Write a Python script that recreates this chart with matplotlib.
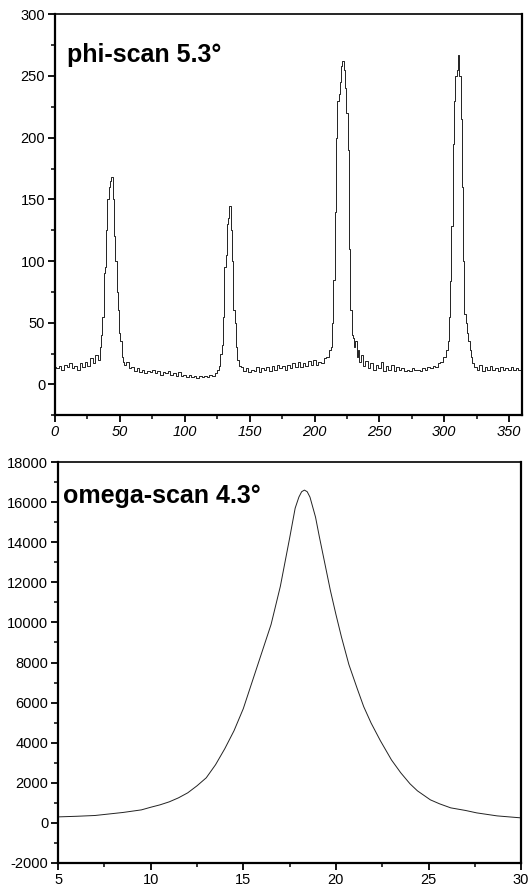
import matplotlib.pyplot as plt
from matplotlib.ticker import MultipleLocator

plt.rcParams['font.family'] = ['Liberation Sans', 'DejaVu Sans']
plt.rcParams['axes.unicode_minus'] = False

# phi-scan (degrees, counts)
phi_deg = [0, 2, 4, 6, 8, 10, 12, 14, 16, 18, 20, 22, 24, 26, 28, 30, 32, 34,
           35, 36, 37, 38, 39, 40, 41, 42, 43, 44, 45, 46, 47, 48, 49, 50, 51, 52, 53,
           54, 56, 58, 60, 62, 64, 66, 68, 70, 72, 74, 76, 78, 80, 82, 84, 86, 88,
           90, 92, 94, 96, 98, 100, 102, 104, 106, 108, 110, 112, 114, 116, 118,
           120, 122, 124, 126, 127, 128, 129, 130, 131, 132, 133, 134, 135, 136,
           137, 138, 139, 140, 141, 142, 144, 146, 148, 150, 152, 154, 156, 158,
           160, 162, 164, 166, 168, 170, 172, 174, 176, 178, 180, 182, 184, 186,
           188, 190, 192, 194, 196, 198, 200, 202, 204, 206, 208, 210, 212, 213,
           214, 215, 216, 217, 218, 219, 220, 221, 222, 223, 224, 225, 226, 227,
           228, 229, 230, 231, 232, 233, 234, 235, 236, 238, 240, 242, 244, 246,
           248, 250, 252, 254, 256, 258, 260, 262, 264, 266, 268, 270, 272, 274,
           276, 278, 280, 282, 284, 286, 288, 290, 292, 294, 296, 298, 300, 302,
           303, 304, 305, 306, 307, 308, 309, 310, 311, 312, 313, 314, 315, 316,
           317, 318, 319, 320, 321, 322, 324, 326, 328, 330, 332, 334, 336, 338,
           340, 342, 344, 346, 348, 350, 352, 354, 356, 358, 360]
phi_counts = [14, 13, 15, 12, 16, 14, 17, 13, 15, 12, 17, 14, 18, 15, 21, 17, 24, 20,
              30, 40, 55, 90, 95, 125, 150, 160, 165, 168, 150, 120, 100, 75, 60, 42, 35, 22, 18,
              16, 18, 13, 14, 11, 13, 10, 12, 9, 11, 10, 12, 9, 11, 8, 10, 9, 11,
              8, 9, 7, 10, 7, 8, 6, 8, 6, 7, 5, 7, 6, 7, 6,
              8, 7, 9, 12, 15, 25, 32, 55, 95, 105, 130, 135, 145, 125,
              100, 60, 50, 30, 20, 15, 14, 11, 13, 10, 12, 11, 14, 10,
              13, 12, 14, 11, 15, 12, 16, 13, 15, 12, 16, 13, 17, 14,
              18, 14, 17, 15, 19, 16, 20, 16, 18, 17, 21, 22, 28, 30,
              50, 85, 140, 200, 230, 235, 245, 258, 262, 255, 240, 220, 190, 110,
              60, 40, 38, 30, 35, 22, 28, 18, 24, 15, 19, 13, 17, 12,
              16, 13, 18, 11, 15, 12, 16, 11, 14, 12, 13, 11, 12, 11,
              13, 12, 12, 11, 13, 12, 14, 13, 15, 14, 17, 18, 22, 28,
              35, 55, 84, 128, 195, 230, 250, 255, 267, 250, 215, 160, 100, 57,
              50, 42, 35, 28, 22, 17, 14, 12, 16, 11, 14, 12, 15, 12,
              13, 11, 14, 12, 13, 12, 14, 12, 13, 12, 13]

# omega-scan (degrees, counts)
omega_deg = [5.0, 6.0, 7.0, 7.5, 8.5, 9.5, 10.0, 10.5, 11.0, 11.5, 12.0, 12.5,
             13.0, 13.5, 14.0, 14.5, 15.0, 15.5, 16.0, 16.5, 17.0, 17.5, 17.8,
             18.0, 18.15, 18.3, 18.45, 18.6, 18.9, 19.1, 19.4, 19.7, 20.0, 20.3,
             20.7, 21.15, 21.5, 21.9, 22.4, 23.0, 23.5, 24.0, 24.4, 25.1, 25.6,
             26.2, 27.0, 27.6, 28.7, 30.0]
omega_counts = [300, 330, 370, 420, 520, 650, 780, 900, 1050, 1250, 1500, 1850,
                2250, 2900, 3700, 4600, 5700, 7100, 8500, 9900, 11800, 14200, 15700,
                16250, 16520, 16600, 16520, 16250, 15250, 14300, 12950, 11600, 10400, 9270,
                7900, 6700, 5800, 4980, 4100, 3140, 2500, 1950, 1600, 1150, 950,
                750, 620, 500, 350, 250]

fig = plt.figure(figsize=(5.28, 8.93), dpi=100)
ax1 = fig.add_axes([0.104, 0.535, 0.885, 0.449])
ax2 = fig.add_axes([0.110, 0.0336, 0.877, 0.449])

ax1.plot(phi_deg, phi_counts, color='#222222', lw=0.7, drawstyle='steps-mid')
ax1.set_xlim(0, 360)
ax1.set_ylim(-25, 300)
ax1.xaxis.set_major_locator(MultipleLocator(50))
ax1.xaxis.set_minor_locator(MultipleLocator(25))
ax1.yaxis.set_major_locator(MultipleLocator(50))
ax1.yaxis.set_minor_locator(MultipleLocator(25))
for lab in ax1.get_xticklabels():
    lab.set_style('italic')
ax1.text(0.026, 0.88, 'phi-scan 5.3°', transform=ax1.transAxes,
         fontsize=18, fontweight='bold', va='baseline')

ax2.plot(omega_deg, omega_counts, color='#222222', lw=0.7)
ax2.set_xlim(5, 30)
ax2.set_ylim(-2000, 18000)
ax2.xaxis.set_major_locator(MultipleLocator(5))
ax2.xaxis.set_minor_locator(MultipleLocator(2.5))
ax2.yaxis.set_major_locator(MultipleLocator(2000))
ax2.yaxis.set_minor_locator(MultipleLocator(1000))
ax2.text(0.011, 0.898, 'omega-scan 4.3°', transform=ax2.transAxes,
         fontsize=18, fontweight='bold', va='baseline')

for ax in (ax1, ax2):
    for s in ax.spines.values():
        s.set_linewidth(1.6)
    ax.spines['top'].set_linewidth(1.2)
    ax.tick_params(which='major', direction='out', length=5, width=1.3,
                   labelsize=10.5, pad=2)
    ax.tick_params(which='minor', direction='out', length=3, width=1.1)

fig.savefig('out.png', dpi=100)
